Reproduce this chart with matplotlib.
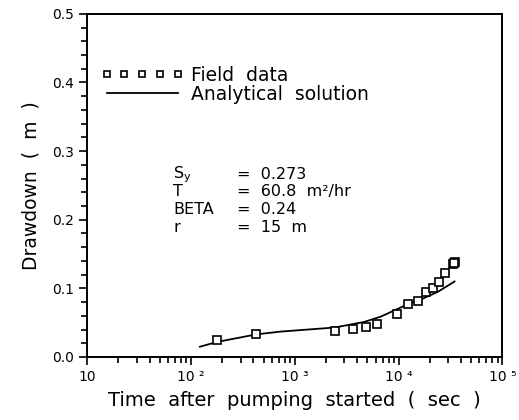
import numpy as np
import matplotlib
matplotlib.use("Agg")
import matplotlib.pyplot as plt
from matplotlib.ticker import FixedLocator, NullFormatter, MultipleLocator, FormatStrFormatter

# field data (time in sec, drawdown in m)
field_t = [179, 427, 2430, 3660, 4850, 6150, 9690, 12300, 15300, 18200,
           21400, 24400, 28100, 33400, 35100, 34300]
field_s = [0.025, 0.034, 0.038, 0.041, 0.043, 0.048, 0.062, 0.077, 0.082, 0.095,
           0.100, 0.110, 0.123, 0.136, 0.138, 0.137]

# analytical solution
sol_t = [122, 179, 427, 730, 2430, 4650, 6780, 12300, 16500, 23900, 34600]
sol_s = [0.015, 0.022, 0.033, 0.037, 0.043, 0.051, 0.059, 0.077, 0.084, 0.095, 0.110]

xtick_vals = [10, 100, 1000, 10000, 100000]
xtick_labels = ["10", "10 \u00b2", "10 \u00b3", "10 \u2074", "10 \u2075"]

param_names = ["$S_y$", "T", "BETA", "r"]
param_vals = ["=  0.273", "=  60.8  m\u00b2/hr", "=  0.24", "=  15  m"]

plt.rcParams['font.family'] = ['DejaVu Sans']
plt.rcParams['mathtext.default'] = 'regular'

fig = plt.figure(figsize=(5.19, 4.20), dpi=100)
ax = fig.add_axes([0.168, 0.15, 0.8, 0.817])

ax.plot(sol_t, sol_s, color="black", lw=1.3, label="Analytical  solution")
ax.plot(field_t, field_s, ls="none", marker="s", ms=6, mfc="white", mec="black",
        mew=1.2, label="Field  data")

ax.set_xscale("log")
ax.set_xlim(10, 1e5)
ax.set_ylim(0, 0.5)

ax.xaxis.set_major_locator(FixedLocator(xtick_vals))
ax.set_xticklabels(xtick_labels)
minor = [m * 10 ** d for d in range(1, 5) for m in range(2, 10)]
ax.xaxis.set_minor_locator(FixedLocator(minor))
ax.xaxis.set_minor_formatter(NullFormatter())
ax.yaxis.set_major_locator(MultipleLocator(0.1))
ax.yaxis.set_minor_locator(MultipleLocator(0.02))
ax.yaxis.set_major_formatter(FormatStrFormatter("%.1f"))

ax.tick_params(which="both", direction="out", width=1.2, labelsize=10,
               top=False, right=False)
ax.tick_params(which="major", length=6)
ax.tick_params(which="minor", length=4)
for sp in ax.spines.values():
    sp.set_linewidth(1.4)

ax.set_xlabel("Time  after  pumping  started  (  sec  )", fontsize=14, labelpad=5)
ax.set_ylabel("Drawdown  (  m  )", fontsize=13.5, labelpad=8)

h, l = ax.get_legend_handles_labels()
ax.legend([h[1], h[0]], [l[1], l[0]], loc="upper left", bbox_to_anchor=(0.015, 0.87),
          frameon=False, numpoints=5, handlelength=4.4, markerscale=0.7,
          fontsize=13.5, labelspacing=0.0, handletextpad=0.4, borderaxespad=0)

for i, (n, v) in enumerate(zip(param_names, param_vals)):
    y = 0.52 - i * 0.052
    ax.text(0.207, y, n, transform=ax.transAxes, fontsize=11.5, va="baseline")
    ax.text(0.36, y, v, transform=ax.transAxes, fontsize=11.5, va="baseline")

fig.savefig("out.png", dpi=100)
